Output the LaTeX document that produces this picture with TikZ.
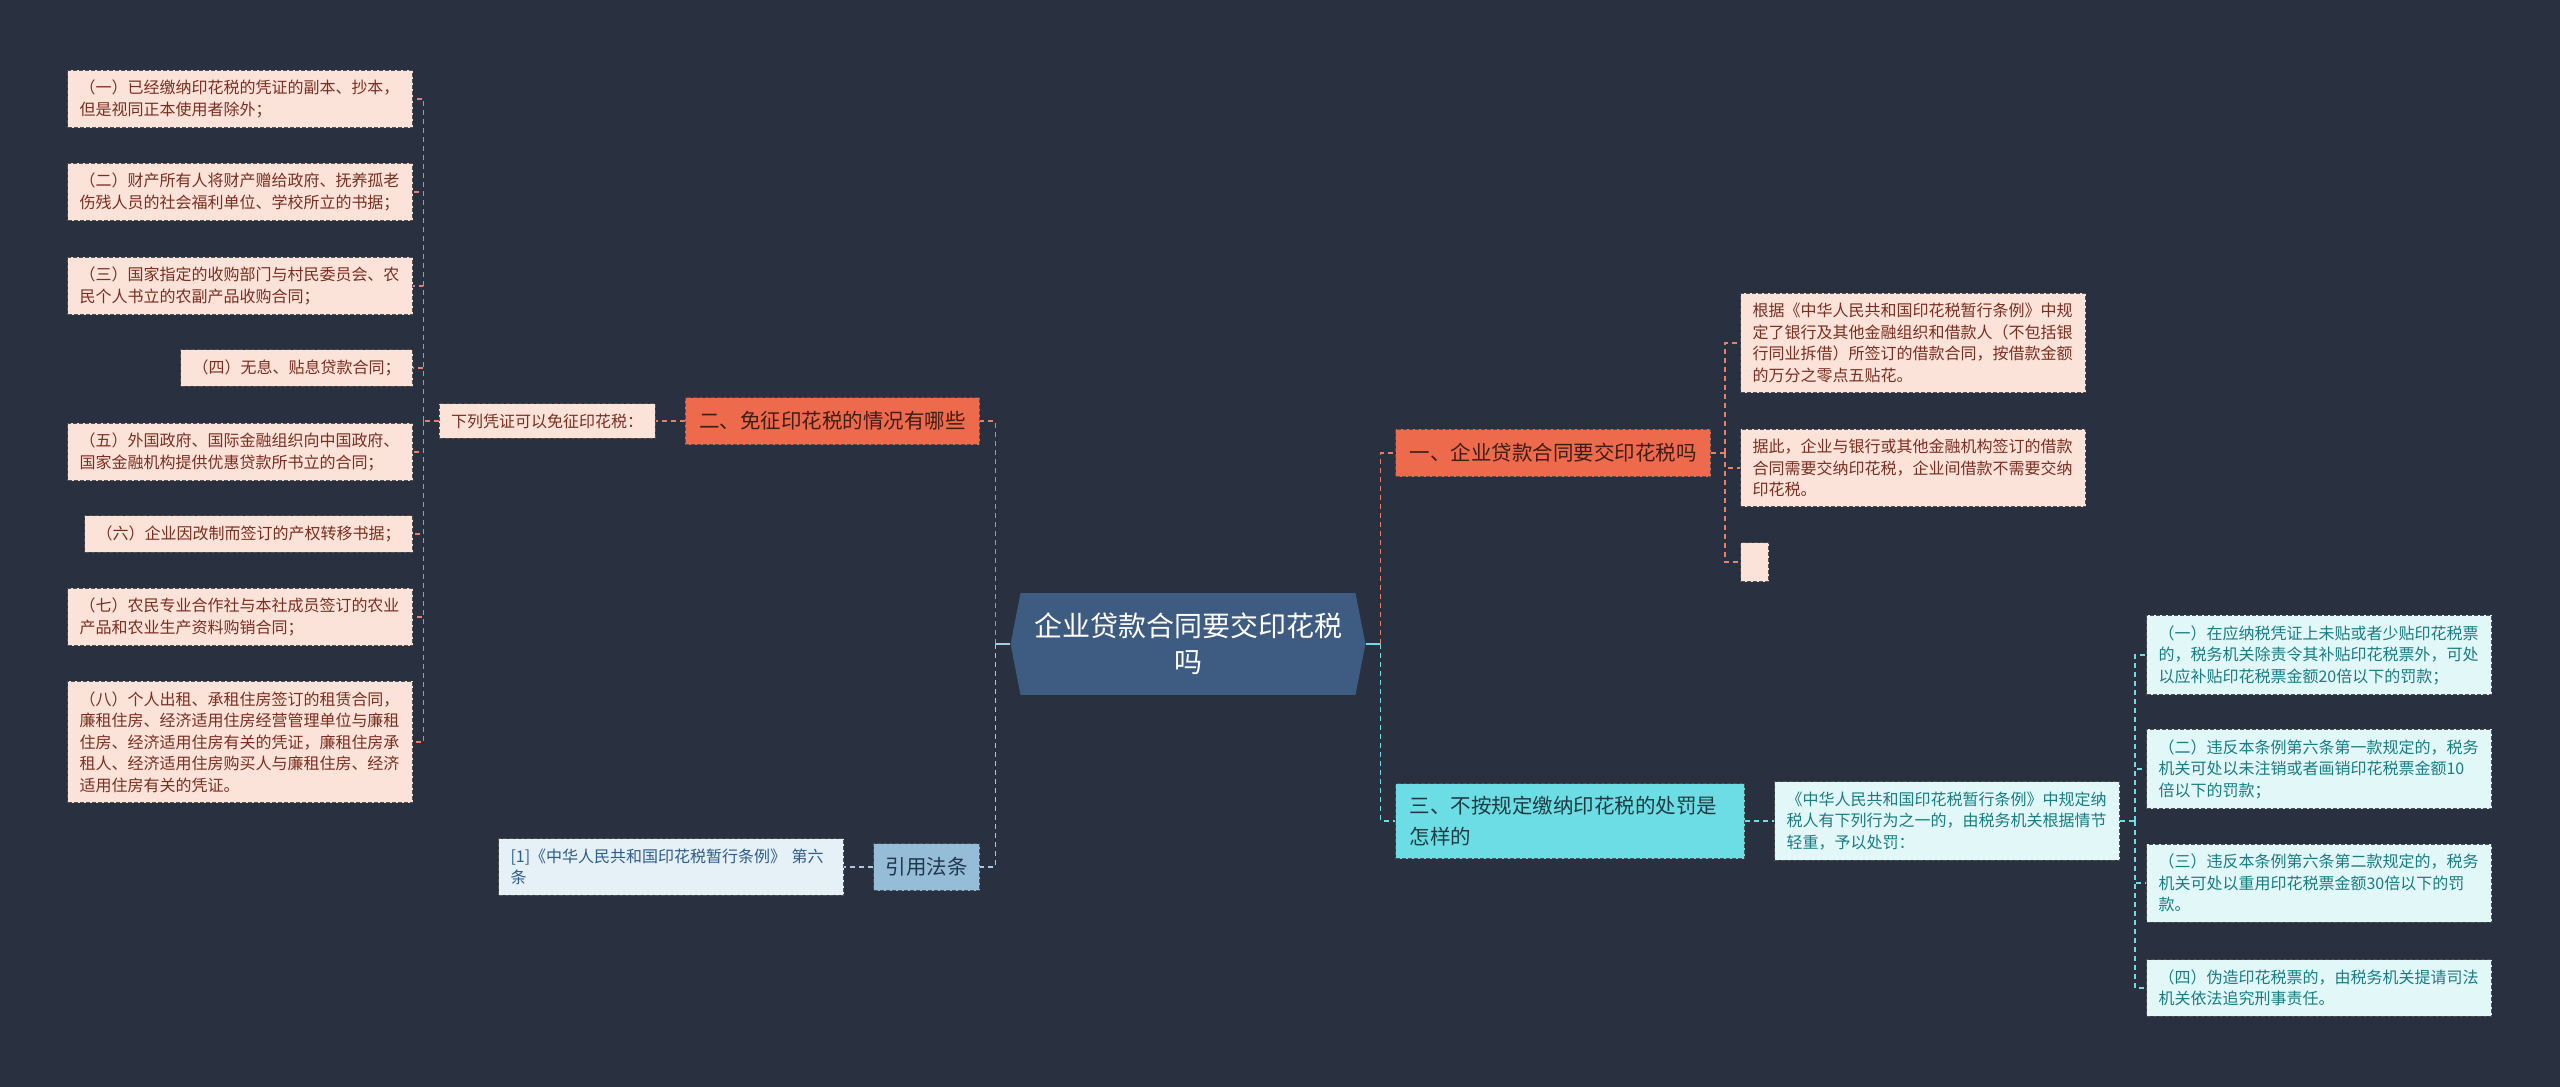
\documentclass[tikz,border=0pt]{standalone}
\usepackage{fontspec}
\setmainfont{Noto Sans CJK SC}
\usetikzlibrary{positioning,shapes.symbols}
\definecolor{bg}{HTML}{293140}
\definecolor{hexfill}{HTML}{3E5B81}
\definecolor{orfill}{HTML}{EE6A4C}
\definecolor{ortext}{HTML}{3F1D15}
\definecolor{peach}{HTML}{FCE3DA}
\definecolor{peachtext}{HTML}{7A2E1F}
\definecolor{cyfill}{HTML}{6CDDE4}
\definecolor{cytext}{HTML}{1D3C42}
\definecolor{ice}{HTML}{E2F7F8}
\definecolor{icetext}{HTML}{187C83}
\definecolor{blfill}{HTML}{95BDD8}
\definecolor{bltext}{HTML}{22364A}
\definecolor{pale}{HTML}{E5F0F7}
\definecolor{paletext}{HTML}{2D5D89}
\definecolor{boxline}{HTML}{505050}
\definecolor{orline}{HTML}{E7806A}
\definecolor{blline}{HTML}{A8CAE2}
\tikzset{box/.style={draw=boxline, dash pattern=on 4pt off 2pt, line width=1pt,
    inner xsep=12pt, inner ysep=10pt, align=left},
  leaf/.style={box, fill=peach, text=peachtext, font=\fontsize{16}{21.5}\selectfont},
  iceleaf/.style={box, fill=ice, text=icetext, font=\fontsize{16}{21.5}\selectfont},
  wide/.style={text width=321pt},
  branch/.style={box, inner xsep=14pt, inner ysep=14pt, font=\fontsize{20.5}{31}\selectfont},
  link/.style={line width=1.6pt, dash pattern=on 5pt off 4pt},
  olink/.style={link, draw=orline},
  clink/.style={link, draw=cyfill},
  blink/.style={link, draw=blline},
  elbow/.style={to path={|- (\tikztotarget)}}
}

\begin{document}
\begin{tikzpicture}[x=1pt, y=-1pt]
  \fill[bg] (0,0) rectangle (2560,1087);

  % centre
  \node[signal, signal to=west and east, signal pointer angle=158, fill=hexfill,
        text=white, text width=310pt, align=center, inner xsep=12.5pt, inner ysep=20pt,
        font=\fontsize{28}{36}\selectfont] (root) at (1188,644) {企业贷款合同要交印花税\\吗};

  % left side
  \node[branch, fill=orfill, text=ortext, anchor=east] (b_2) at (980,421) {二、免征印花税的情况有哪些};
  \node[leaf] (n_2) [left=29pt of b_2] {下列凭证可以免征印花税：};
  \node[leaf, wide, anchor=east] (l_1) at (413,99)  {（一）已经缴纳印花税的凭证的副本、抄本，\\但是视同正本使用者除外；};
  \node[leaf, wide, anchor=east] (l_2) at (413,192) {（二）财产所有人将财产赠给政府、抚养孤老\\伤残人员的社会福利单位、学校所立的书据；};
  \node[leaf, wide, anchor=east] (l_3) at (413,286) {（三）国家指定的收购部门与村民委员会、农\\民个人书立的农副产品收购合同；};
  \node[leaf, anchor=east]       (l_4) at (413,368) {（四）无息、贴息贷款合同；};
  \node[leaf, wide, anchor=east] (l_5) at (413,452) {（五）外国政府、国际金融组织向中国政府、\\国家金融机构提供优惠贷款所书立的合同；};
  \node[leaf, anchor=east]       (l_6) at (413,534) {（六）企业因改制而签订的产权转移书据；};
  \node[leaf, wide, anchor=east] (l_7) at (413,617) {（七）农民专业合作社与本社成员签订的农业\\产品和农业生产资料购销合同；};
  \node[leaf, wide, anchor=east] (l_8) at (413,742) {（八）个人出租、承租住房签订的租赁合同，\\廉租住房、经济适用住房经营管理单位与廉租\\住房、经济适用住房有关的凭证，廉租住房承\\租人、经济适用住房购买人与廉租住房、经济\\适用住房有关的凭证。};

  \node[branch, fill=blfill, text=bltext, inner xsep=12pt, anchor=east] (b_4) at (980,867) {引用法条};
  \node[box, fill=pale, text=paletext, wide, font=\fontsize{16}{21.5}\selectfont] (r_1) [left=29pt of b_4] {[1]《中华人民共和国印花税暂行条例》 第六\\条};

  % right side
  \node[branch, fill=orfill, text=ortext, anchor=west] (b_1) at (1395,453) {一、企业贷款合同要交印花税吗};
  \node[leaf, wide, anchor=west] (c_1) at (1740,343) {根据《中华人民共和国印花税暂行条例》中规\\定了银行及其他金融组织和借款人（不包括银\\行同业拆借）所签订的借款合同，按借款金额\\的万分之零点五贴花。};
  \node[leaf, wide, anchor=west] (c_2) at (1740,468) {据此，企业与银行或其他金融机构签订的借款\\合同需要交纳印花税，企业间借款不需要交纳\\印花税。};
  \node[leaf, minimum width=28pt, minimum height=39pt, inner sep=0pt, anchor=west] (c_3) at (1740,562) {};

  \node[branch, fill=cyfill, text=cytext, wide, inner ysep=12.5pt, anchor=west] (b_3) at (1395,821) {三、不按规定缴纳印花税的处罚是\\怎样的};
  \node[iceleaf, wide] (d_1) [right=29pt of b_3] {《中华人民共和国印花税暂行条例》中规定纳\\税人有下列行为之一的，由税务机关根据情节\\轻重，予以处罚：};
  \node[iceleaf, wide, anchor=west] (e_1) at (2146,655) {（一）在应纳税凭证上未贴或者少贴印花税票\\的，税务机关除责令其补贴印花税票外，可处\\以应补贴印花税票金额20倍以下的罚款；};
  \node[iceleaf, wide, anchor=west] (e_2) at (2146,769) {（二）违反本条例第六条第一款规定的，税务\\机关可处以未注销或者画销印花税票金额10\\倍以下的罚款；};
  \node[iceleaf, wide, anchor=west] (e_3) at (2146,883) {（三）违反本条例第六条第二款规定的，税务\\机关可处以重用印花税票金额30倍以下的罚\\款。};
  \node[iceleaf, wide, anchor=west] (e_4) at (2146,988) {（四）伪造印花税票的，由税务机关提请司法\\机关依法追究刑事责任。};

  % connectors
  \draw[line width=1.6pt, blline] (root.west) -- ++(-15,0) coordinate (lj);
  \draw[line width=1.6pt, cyfill] (root.east) -- ++(15,0) coordinate (rj);
  \path[olink] (lj) edge[elbow] (b_2.east);
  \path[blink] (lj) edge[elbow] (b_4.east);
  \path[olink] (rj) edge[elbow] (b_1.west);
  \path[clink] (rj) edge[elbow] (b_3.west);

  \path[olink] (b_2) edge (n_2);
  \draw[olink] (n_2.west) -- ++(-15,0) coordinate (lk);
  \path[olink] (lk) edge[elbow] (l_1.east)
                    edge[elbow] (l_2.east)
                    edge[elbow] (l_3.east)
                    edge[elbow] (l_4.east)
                    edge[elbow] (l_5.east)
                    edge[elbow] (l_6.east)
                    edge[elbow] (l_7.east)
                    edge[elbow] (l_8.east);
  \path[blink] (b_4) edge (r_1);

  \draw[olink] (b_1.east) -- ++(14,0) coordinate (rk);
  \path[olink] (rk) edge[elbow] (c_1.west)
                    edge[elbow] (c_2.west)
                    edge[elbow] (c_3.west);

  \path[clink] (b_3) edge (d_1);
  \draw[clink] (d_1.east) -- ++(15,0) coordinate (rm);
  \path[clink] (rm) edge[elbow] (e_1.west)
                    edge[elbow] (e_2.west)
                    edge[elbow] (e_3.west)
                    edge[elbow] (e_4.west);
\end{tikzpicture}
\end{document}
